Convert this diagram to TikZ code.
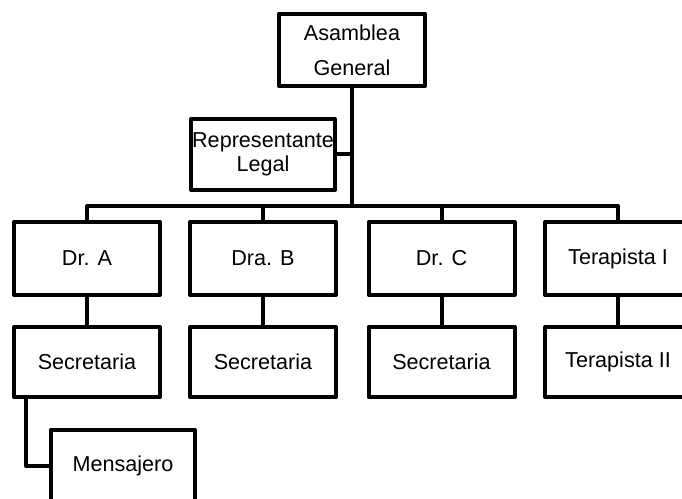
\documentclass[tikz,border=0pt]{standalone}
\usepackage{fontspec}
\setmainfont{Liberation Sans}
\begin{document}
\begin{tikzpicture}[x=0.75pt, y=-0.75pt, line width=3pt, line join=round,
    every node/.style={font=\fontsize{16.2}{19}\selectfont},
    cargo/.style={draw, inner sep=0pt, minimum width=109.5pt, minimum height=54.5pt, align=center}]
    \useasboundingbox (0,0) rectangle (682,499);
    \clip (0,0) rectangle (682,499);

    % Asamblea y representante
    \node[cargo, font=\fontsize{16.2}{26.25}\selectfont] (asamblea) at (352,50) {Asamblea\\General};
    \node[cargo, minimum width=108pt, minimum height=53.25pt, font=\fontsize{16.2}{18}\selectfont] (rep) at (263,154.5) {Representante\\Legal};
    \coordinate (bar) at (352,206);
    \draw (asamblea.south) -- (bar);
    \draw (rep.east) -- (rep.east -| asamblea.south);

    % Medicos y terapistas
    \foreach \n/\x/\t in {drA/87/Dr. A, drB/263/Dra. B, drC/441.5/Dr. C, ter1/618/Terapista I} {
        \node[cargo] (\n) at (\x,258.5) {\t};
    }
    \draw (drA.north) |- (bar) -| (ter1.north);
    \foreach \n in {drB,drC} {
        \draw (bar -| \n.north) -- (\n.north);
    }

    % Secretarias
    \foreach \n/\x/\t in {sec1/87/Secretaria, sec2/263/Secretaria, sec3/441.5/Secretaria, ter2/618/Terapista II} {
        \node[cargo, minimum height=52.5pt] (\n) at (\x,362) {\t};
    }
    \foreach \a/\b in {drA/sec1, drB/sec2, drC/sec3, ter1/ter2} {
        \draw (\a) -- (\b);
    }

    % Mensajero
    \node[cargo, minimum width=108pt, minimum height=54.75pt] (mens) at (123,466) {Mensajero};
    \draw (sec1.south west) ++(14,0) |- (mens.west);
\end{tikzpicture}
\end{document}
